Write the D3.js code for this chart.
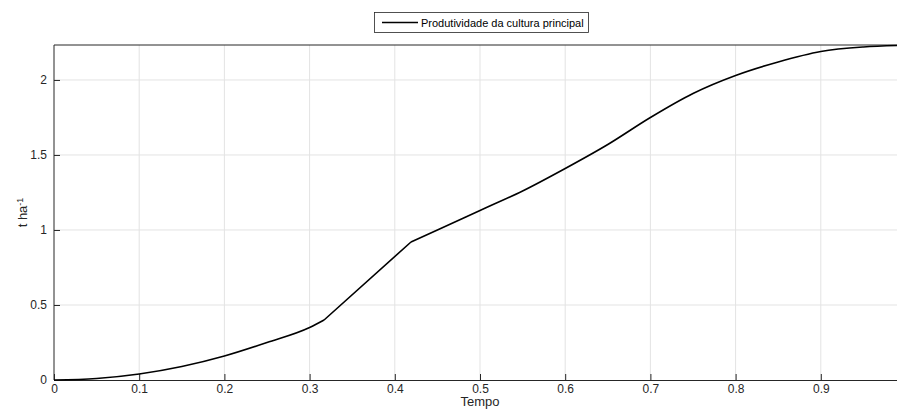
<!DOCTYPE html>
<html>
<head>
<meta charset="utf-8">
<script src="https://cdn.jsdelivr.net/npm/d3@7"></script>
<style>
  body { margin: 0; background: #fff; }
  text { font-family: "Liberation Sans", Arial, sans-serif; }
</style>
</head>
<body>
<div id="chart"></div>
<script>
const width = 897;
const height = 410;
const margin = {left: 54, right: -9, top: 45, bottom: 30};

// curve (kinks at 0.317 and 0.419)
const tempo = [0, 0.05, 0.1, 0.15, 0.2, 0.25, 0.3, 0.317, 0.419, 0.45, 0.5, 0.55, 0.6, 0.65, 0.7, 0.75, 0.8, 0.85, 0.9, 0.95, 0.99];
const produtividade = [0, 0.01, 0.04, 0.09, 0.16, 0.25, 0.35, 0.40, 0.92, 1.0, 1.13, 1.26, 1.41, 1.57, 1.75, 1.91, 2.03, 2.12, 2.19, 2.22, 2.23];
const kinks = [0.317, 0.419];
const xTicks = [0, 0.1, 0.2, 0.3, 0.4, 0.5, 0.6, 0.7, 0.8, 0.9];
const yTicks = [0, 0.5, 1, 1.5, 2];
const legendLabel = "Produtividade da cultura principal";

const data = tempo.map((t, i) => ({t: t, v: produtividade[i]}));

// split the curve at the kinks so the smoothing does not round them
const segments = [];
let cur = [];
data.forEach(d => {
  cur.push(d);
  if (kinks.includes(d.t)) { segments.push(cur); cur = [d]; }
});
segments.push(cur);

const svg = d3.select("#chart")
  .append("svg")
  .attr("width", width)
  .attr("height", height);

const x = d3.scaleLinear()
  .domain([0, 1])
  .range([margin.left, width - margin.right]);

const y = d3.scaleLinear()
  .domain([0, 2.233])
  .range([height - margin.bottom, margin.top]);

const axisColor = "#262626";

// grid
svg.append("g")
  .selectAll("line")
  .data(xTicks.slice(1))
  .enter().append("line")
    .attr("x1", d => x(d)).attr("x2", d => x(d))
    .attr("y1", margin.top).attr("y2", height - margin.bottom)
    .attr("stroke", "#e3e3e3").attr("stroke-width", 1);
svg.append("g")
  .selectAll("line")
  .data(yTicks.slice(1))
  .enter().append("line")
    .attr("x1", margin.left).attr("x2", width - margin.right)
    .attr("y1", d => y(d)).attr("y2", d => y(d))
    .attr("stroke", "#e3e3e3").attr("stroke-width", 1);

// top border
svg.append("line")
  .attr("x1", margin.left).attr("x2", width - margin.right)
  .attr("y1", margin.top).attr("y2", margin.top)
  .attr("stroke", axisColor).attr("stroke-width", 1);

// axes with inward ticks
const xAxis = svg.append("g")
  .attr("transform", `translate(0,${height - margin.bottom})`)
  .call(d3.axisBottom(x).tickValues(xTicks).tickSize(-6).tickPadding(5)
    .tickFormat(d => d === 0 ? "0" : d3.format(".1f")(d)))
  .attr("font-size", "12px");
const yAxis = svg.append("g")
  .attr("transform", `translate(${margin.left},0)`)
  .call(d3.axisLeft(y).tickValues(yTicks).tickSize(-6).tickPadding(7)
    .tickFormat(d => String(d)))
  .attr("font-size", "12px");

[xAxis, yAxis].forEach(a => {
  a.select(".domain").attr("stroke", axisColor);
  a.selectAll(".tick line").attr("stroke", axisColor);
  a.selectAll("text").attr("fill", axisColor)
    .style("font-family", "'Liberation Sans', Arial, sans-serif");
});
yAxis.select(".domain").attr("d", `M0,${y(0)}V${margin.top}`);
xAxis.selectAll("text").attr("y", 4);

// axis labels
svg.append("text")
  .attr("x", x(0.5)).attr("y", 406)
  .attr("text-anchor", "middle")
  .attr("font-size", "13px")
  .attr("fill", axisColor)
  .text("Tempo");

const yl = svg.append("text")
  .attr("transform", `translate(27,${(y(0) + margin.top) / 2}) rotate(-90)`)
  .attr("text-anchor", "middle")
  .attr("font-size", "13px")
  .attr("fill", axisColor);
yl.append("tspan").text("t ha");
yl.append("tspan").attr("dy", "-0.45em").attr("font-size", "9px").text("-1");

// line
const line = d3.line().x(d => x(d.t)).y(d => y(d.v)).curve(d3.curveMonotoneX);
svg.append("path")
  .attr("fill", "none")
  .attr("stroke", "#000")
  .attr("stroke-width", 1.6)
  .attr("stroke-linejoin", "round")
  .attr("d", segments.map(s => line(s)).join(""));

// legend
const lg = svg.append("g");
lg.append("rect")
  .attr("x", 374.5).attr("y", 12.5)
  .attr("width", 214).attr("height", 20)
  .attr("fill", "#fff").attr("stroke", axisColor).attr("stroke-width", 0.8);
lg.append("line")
  .attr("x1", 382).attr("x2", 418)
  .attr("y1", 22.5).attr("y2", 22.5)
  .attr("stroke", "#000").attr("stroke-width", 1.5);
lg.append("text")
  .attr("x", 421).attr("y", 26.5)
  .attr("font-size", "11px")
  .attr("fill", "#000")
  .text(legendLabel);
</script>
</body>
</html>
